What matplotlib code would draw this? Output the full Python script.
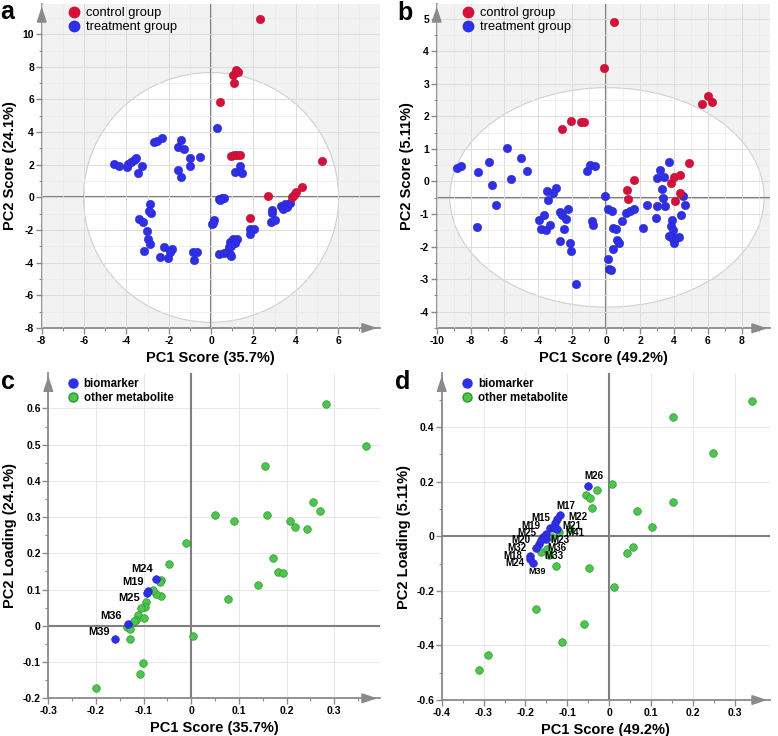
import matplotlib
matplotlib.use("Agg")
import matplotlib.pyplot as plt
from matplotlib.patches import Ellipse
from matplotlib.lines import Line2D
from matplotlib.ticker import MultipleLocator, FuncFormatter

plt.rcParams['font.family'] = ['Liberation Sans', 'DejaVu Sans']

# ---------------- data ----------------
# panel a (PCA scores, PC1 35.7% / PC2 24.1%)
a_ctrl_x = [2.29, 1.03, 1.18, 1.29, 1.07, 0.44, 0.95, 1.10, 1.22, 1.38, 5.22, 2.68, 1.83, 3.80, 3.90, 4.00, 4.30]
a_ctrl_y = [10.92, 7.50, 7.80, 7.67, 6.99, 5.85, 2.55, 2.57, 2.60, 2.62, 2.23, 0.08, -1.29, 0.00, 0.15, 0.35, 0.62]
a_trt_x = [0.28, -4.60, -4.37, -3.97, -3.90, -3.79, -3.66, -3.53, -3.26, -3.47, -2.68, -2.55, -2.32,
           -1.42, -1.56, -1.29, -0.98, -0.98, -0.50, -1.56, -1.44, 1.14, 1.39, 1.44, 0.36, 0.52, 0.63, 0.41,
           -2.90, -2.84, -2.95, -3.41, -3.22, -3.03, -2.97, -2.90, -3.15, -2.24, -2.40, -2.03, -1.85, -1.92,
           -0.85, -0.66, -0.79, 0.13, 0.05, 0.10, 0.36, 0.60, 0.76, 0.88, 0.95, 0.84, 0.91, 1.03, 1.15, 1.23,
           1.15, 0.95, 1.83, 2.05, 1.83, 2.81, 3.04, 2.87, 2.90, 3.28, 3.41, 3.49, 3.60, 3.72]
a_trt_y = [4.27, 2.04, 1.94, 1.84, 2.02, 2.15, 2.29, 2.43, 1.94, 1.47, 3.42, 3.48, 3.66,
           3.52, 3.11, 2.94, 2.39, 1.94, 2.49, 1.68, 1.23, 1.53, 1.94, 1.47, -0.10, -0.02, -0.04, -0.16,
           -0.41, -0.94, -0.86, -1.35, -1.49, -2.04, -2.54, -2.86, -3.29, -3.03, -3.64, -3.70, -3.13, -3.33,
           -3.33, -3.37, -3.84, -1.39, -1.64, -1.55, -3.44, -3.39, -3.33, -3.48, -3.56, -3.03, -2.72, -2.52,
           -2.58, -2.52, -2.82, -2.99, -1.92, -1.92, -2.25, -1.53, -1.39, -0.78, -0.94, -0.53, -0.74, -0.41,
           -0.57, -0.37]

# panel b (PCA scores, PC1 49.2% / PC2 5.11%)
b_ctrl_x = [0.49, -0.12, 5.65, 6.04, 6.22, -2.62, -2.05, -1.48, -1.30, 4.90, 1.63, 1.22, 1.28, 3.82, 4.02, 4.35, 4.35, 4.07]
b_ctrl_y = [4.91, 3.49, 2.38, 2.61, 2.43, 1.60, 1.86, 1.84, 1.84, 0.58, 0.03, -0.27, -0.55, -0.04, 0.13, 0.19, -0.36, -0.61]
b_trt_x = [-8.78, -8.58, -7.56, -7.60, -6.91, -6.75, -6.48, -5.87, -5.61, -5.04, -4.70, -3.50, -2.97, -3.13,
           -3.41, -3.96, -3.66, -3.86, -3.56, -3.31, -2.74, -2.58, -2.28, -2.34, -2.48, -2.74, -2.13, -2.05,
           -1.75, -1.14, -0.94, -0.67, -0.85, -0.77, -0.06, 0.08, 0.37, 0.43, 0.57, 0.67, 0.73, 0.43, 0.12,
           0.18, 0.28, 0.91, 1.20, 1.40, 1.65, 2.15, 2.44, 2.93, 3.03, 2.99, 3.17, 3.43, 3.72, 3.29, 3.33,
           3.48, 3.88, 3.82, 3.92, 3.72, 3.88, 3.98, 4.11, 4.31, 4.55, 4.65, 4.41]
b_trt_y = [0.41, 0.47, 0.29, -1.40, 0.59, -0.10, -0.72, 1.02, 0.08, 0.72, 0.32, -0.30, -0.20, -0.36,
           -0.58, -1.18, -1.04, -1.45, -1.48, -1.33, -0.94, -1.04, -0.85, -1.15, -1.45, -1.83, -1.88, -2.14,
           -3.14, 0.32, 0.51, 0.47, -1.20, -1.35, -0.46, -0.84, -0.91, -1.43, -1.45, -1.79, -1.89, -2.07,
           -2.37, -2.68, -2.71, -1.20, -0.97, -0.91, -0.84, -1.43, -0.71, -1.12, -0.75, 0.10, 0.36, 0.13,
           0.61, -0.23, -0.51, -0.74, -1.17, -1.37, -1.50, -1.68, -1.73, -1.89, -1.74, -1.71, -0.46, -0.72, -1.04]

# panel c (loadings)
c_other_x = [0.2825, 0.366, 0.155, 0.256, 0.271, 0.050, 0.089, 0.159, 0.208, 0.217, 0.243, 0.171, 0.182,
             0.192, 0.141, 0.078, -0.011, -0.047, -0.063, -0.066, -0.064, -0.074, -0.080, -0.094, -0.098,
             -0.106, -0.112, -0.115, -0.121, -0.100, -0.135, -0.129, -0.128, 0.003, -0.101, -0.108, -0.199]
c_other_y = [0.612, 0.495, 0.440, 0.343, 0.317, 0.305, 0.290, 0.305, 0.290, 0.274, 0.267, 0.186, 0.149,
             0.147, 0.112, 0.073, 0.229, 0.171, 0.127, 0.120, 0.083, 0.088, 0.099, 0.065, 0.053,
             0.048, 0.030, 0.017, 0.014, 0.021, -0.002, -0.009, -0.037, -0.028, -0.103, -0.133, -0.171]
c_bio_names = ['M24', 'M19', 'M25', 'M36', 'M39']
c_bio_x = [-0.073, -0.091, -0.092, -0.133, -0.159]
c_bio_y = [0.128, 0.096, 0.090, 0.006, -0.035]

# panel d (loadings)
d_other_x = [0.342, 0.153, 0.249, 0.153, 0.006, -0.028, -0.055, -0.047, -0.042, 0.066, 0.102, 0.058, 0.042,
             -0.048, -0.126, 0.011, -0.174, -0.059, -0.112, -0.290, -0.311, -0.094, -0.136, -0.164, -0.148,
             -0.144, -0.120]
d_other_y = [0.497, 0.438, 0.305, 0.124, 0.190, 0.169, 0.150, 0.140, 0.104, 0.093, 0.035, -0.039, -0.063,
             -0.116, -0.110, -0.186, -0.268, -0.322, -0.388, -0.436, -0.490, 0.028, -0.002, -0.058, -0.045,
             -0.070, 0.016]
d_bio_names = ['M26', 'M17', 'M22', 'M15', 'M19', 'M21', 'M41', 'M25', 'M20', 'M23', 'M32', 'M36',
               'M18', 'M33', 'M24', 'M39']
d_bio_x = [-0.050, -0.118, -0.124, -0.130, -0.142, -0.132, -0.124, -0.152, -0.158, -0.150, -0.168, -0.162,
           -0.190, -0.176, -0.188, -0.183]
d_bio_y = [0.185, 0.077, 0.065, 0.049, 0.032, 0.032, 0.028, 0.010, -0.002, -0.010, -0.029, -0.015,
           -0.073, -0.042, -0.085, -0.097]

# label offsets (pixels) -- layout only
c_lab_off = [(-14, 10), (-15, 9), (-18, -5), (-17, 8), (-16, 7)]
d_lab_off = [(6, 10), (6, 9), (21, 1), (-14, 5), (-19, 2), (18, 2), (18, -4), (-19, 1), (-22, -3),
             (14, -1), (-22, -4), (16, -8), (-17, 0), (18, -8), (-16, -4), (5, -9)]

RED = '#d5113b'
BLUE = '#2f2fe8'
GREEN = '#4cc64c'
GREEN_EDGE = '#2f962f'
AXC = '#8a8a8a'

fig = plt.figure(figsize=(7.78, 7.36), dpi=100)
W, H = 778.0, 736.0


def add_ax(l, t, r, b):
    return fig.add_axes([l / W, 1 - b / H, (r - l) / W, (b - t) / H])


def fmt(v, pos):
    return '%g' % round(v, 6)


def style(ax, xlim, ylim, xmaj, xmin, ymaj, ymin, gray):
    ax.set_xlim(*xlim)
    ax.set_ylim(*ylim)
    for s in ['top', 'right']:
        ax.spines[s].set_visible(False)
    for s in ['left', 'bottom']:
        ax.spines[s].set_color(AXC)
        ax.spines[s].set_linewidth(1.3)
    ax.xaxis.set_major_locator(MultipleLocator(xmaj))
    ax.xaxis.set_minor_locator(MultipleLocator(xmin))
    ax.yaxis.set_major_locator(MultipleLocator(ymaj))
    ax.yaxis.set_minor_locator(MultipleLocator(ymin))
    ax.xaxis.set_major_formatter(FuncFormatter(fmt))
    ax.yaxis.set_major_formatter(FuncFormatter(fmt))
    ax.tick_params(which='major', length=4, width=1, color=AXC, labelsize=7.5, pad=1.5)
    ax.tick_params(which='minor', length=2, width=0.8, color=AXC)
    for lab in ax.get_xticklabels() + ax.get_yticklabels():
        lab.set_fontweight('bold')
    if gray:
        ax.set_facecolor('#f2f2f2')
        ax.set_axisbelow(False)
        ax.grid(True, which='major', color='#dcdcdc', lw=0.7, zorder=1.5)
        ax.grid(True, which='minor', color='#e9e9e9', lw=0.5, zorder=1.5)
    else:
        ax.set_facecolor('white')
        ax.set_axisbelow(True)
        ax.grid(True, which='major', color='#e8e8e8', lw=0.7)
    # arrows
    ax.annotate('', xy=(1.0, 0), xytext=(0.97, 0), xycoords='axes fraction',
                arrowprops=dict(arrowstyle='-|>,head_length=0.9,head_width=0.3', color=AXC, lw=1.2),
                annotation_clip=False)
    ax.annotate('', xy=(0, 1.0), xytext=(0, 0.97), xycoords='axes fraction',
                arrowprops=dict(arrowstyle='-|>,head_length=0.9,head_width=0.3', color=AXC, lw=1.2),
                annotation_clip=False)


def legend(ax, labels, colors, bx, by, fs, bold, ms):
    handles = [Line2D([], [], marker='o', ls='', color=c, markeredgecolor=e, ms=ms) for c, e in colors]
    lg = ax.legend(handles, labels, loc='upper left', bbox_to_anchor=(bx, by), frameon=False,
                   handlelength=1.0, handletextpad=0.45, labelspacing=0.15, borderaxespad=0, borderpad=0,
                   prop=dict(size=fs, weight='bold' if bold else 'normal'))
    lg.set_zorder(10)


# ---- panel a ----
axa = add_ax(41.7, 4, 380, 328)
style(axa, (-8, 7.98), (-8, 11.85), 2, 1, 2, 1, True)
axa.add_patch(Ellipse((0, 0), 12.05, 15.3, facecolor='white', edgecolor='#cfcfcf', lw=0.8, zorder=1))
axa.axhline(0, color='#7f7f7f', lw=1.5, zorder=2)
axa.axvline(0, color='#7f7f7f', lw=1.5, zorder=2)
axa.scatter(a_trt_x, a_trt_y, s=36, color=BLUE, edgecolors='#2525c8', linewidths=0.4, zorder=4)
axa.scatter(a_ctrl_x, a_ctrl_y, s=36, color=RED, edgecolors='#b80d30', linewidths=0.4, zorder=4)
axa.set_xlabel('PC1 Score (35.7%)', fontsize=10.5, fontweight='bold', labelpad=4)
axa.set_ylabel('PC2 Score (24.1%)', fontsize=10.5, fontweight='bold', labelpad=4)
legend(axa, ['control group', 'treatment group'], [(RED, RED), (BLUE, BLUE)], 0.075, 0.99, 9.3, False, 7.5)

# ---- panel b ----
axb = add_ax(436.7, 4, 770, 328.3)
style(axb, (-10, 9.67), (-4.51, 5.45), 2, 1, 1, 0.5, True)
axb.add_patch(Ellipse((0.05, -0.49), 18.55, 6.74, facecolor='white', edgecolor='#cfcfcf', lw=0.8, zorder=1))
axb.axhline(-0.5, color='#7f7f7f', lw=1.5, zorder=2)
axb.axvline(0, color='#7f7f7f', lw=1.5, zorder=2)
axb.scatter(b_trt_x, b_trt_y, s=36, color=BLUE, edgecolors='#2525c8', linewidths=0.4, zorder=4)
axb.scatter(b_ctrl_x, b_ctrl_y, s=36, color=RED, edgecolors='#b80d30', linewidths=0.4, zorder=4)
axb.set_xlabel('PC1 Score (49.2%)', fontsize=10.5, fontweight='bold', labelpad=4)
axb.set_ylabel('PC2 Score (5.11%)', fontsize=10.5, fontweight='bold', labelpad=4)
legend(axb, ['control group', 'treatment group'], [(RED, RED), (BLUE, BLUE)], 0.075, 0.99, 9.3, False, 7.5)

# ---- panel c ----
axc = add_ax(48.3, 373.3, 380, 698.3)
style(axc, (-0.3, 0.396), (-0.2, 0.697), 0.1, 0.05, 0.1, 0.05, False)
axc.axhline(0, color='#7f7f7f', lw=1.5, zorder=2)
axc.axvline(0, color='#7f7f7f', lw=1.5, zorder=2)
axc.scatter(c_other_x, c_other_y, s=30, color=GREEN, edgecolors=GREEN_EDGE, linewidths=0.5, zorder=3)
axc.scatter(c_bio_x, c_bio_y, s=30, color=BLUE, edgecolors='#2525c8', linewidths=0.5, zorder=4)
for n, x, y, off in zip(c_bio_names, c_bio_x, c_bio_y, c_lab_off):
    axc.annotate(n, (x, y), xytext=off, textcoords='offset pixels', ha='center', va='center',
                 fontsize=8, fontweight='bold', zorder=5)
axc.set_xlabel('PC1 Score (35.7%)', fontsize=10.5, fontweight='bold', labelpad=4)
axc.set_ylabel('PC2 Loading (24.1%)', fontsize=10.5, fontweight='bold', labelpad=4)
legend(axc, ['biomarker', 'other metabolite'], [(BLUE, BLUE), (GREEN, GREEN_EDGE)], 0.056, 0.985, 8.3, True, 6.5)

# ---- panel d ----
axd = add_ax(441.7, 373.3, 770, 700)
style(axd, (-0.4, 0.384), (-0.6, 0.597), 0.1, 0.05, 0.2, 0.1, False)
axd.axhline(0, color='#7f7f7f', lw=1.5, zorder=2)
axd.axvline(0, color='#7f7f7f', lw=1.5, zorder=2)
axd.scatter(d_other_x, d_other_y, s=30, color=GREEN, edgecolors=GREEN_EDGE, linewidths=0.5, zorder=3)
axd.scatter(d_bio_x, d_bio_y, s=30, color=BLUE, edgecolors='#2525c8', linewidths=0.5, zorder=4)
for n, x, y, off in zip(d_bio_names, d_bio_x, d_bio_y, d_lab_off):
    axd.annotate(n, (x, y), xytext=off, textcoords='offset pixels', ha='center', va='center',
                 fontsize=6.5 if n == 'M39' else 7, fontweight='bold', zorder=5)
axd.set_xlabel('PC1 Score (49.2%)', fontsize=10.5, fontweight='bold', labelpad=4)
axd.set_ylabel('PC2 Loading (5.11%)', fontsize=10.5, fontweight='bold', labelpad=4)
legend(axd, ['biomarker', 'other metabolite'], [(BLUE, BLUE), (GREEN, GREEN_EDGE)], 0.06, 0.985, 8.3, True, 6.5)

# panel letters
for t, x, y in [('a', 7, 12), ('b', 405, 13), ('c', 8, 382), ('d', 403, 382)]:
    fig.text(x / W, 1 - y / H, t, fontsize=18, fontweight='bold', ha='center', va='center')

fig.savefig('out.png', dpi=100)
